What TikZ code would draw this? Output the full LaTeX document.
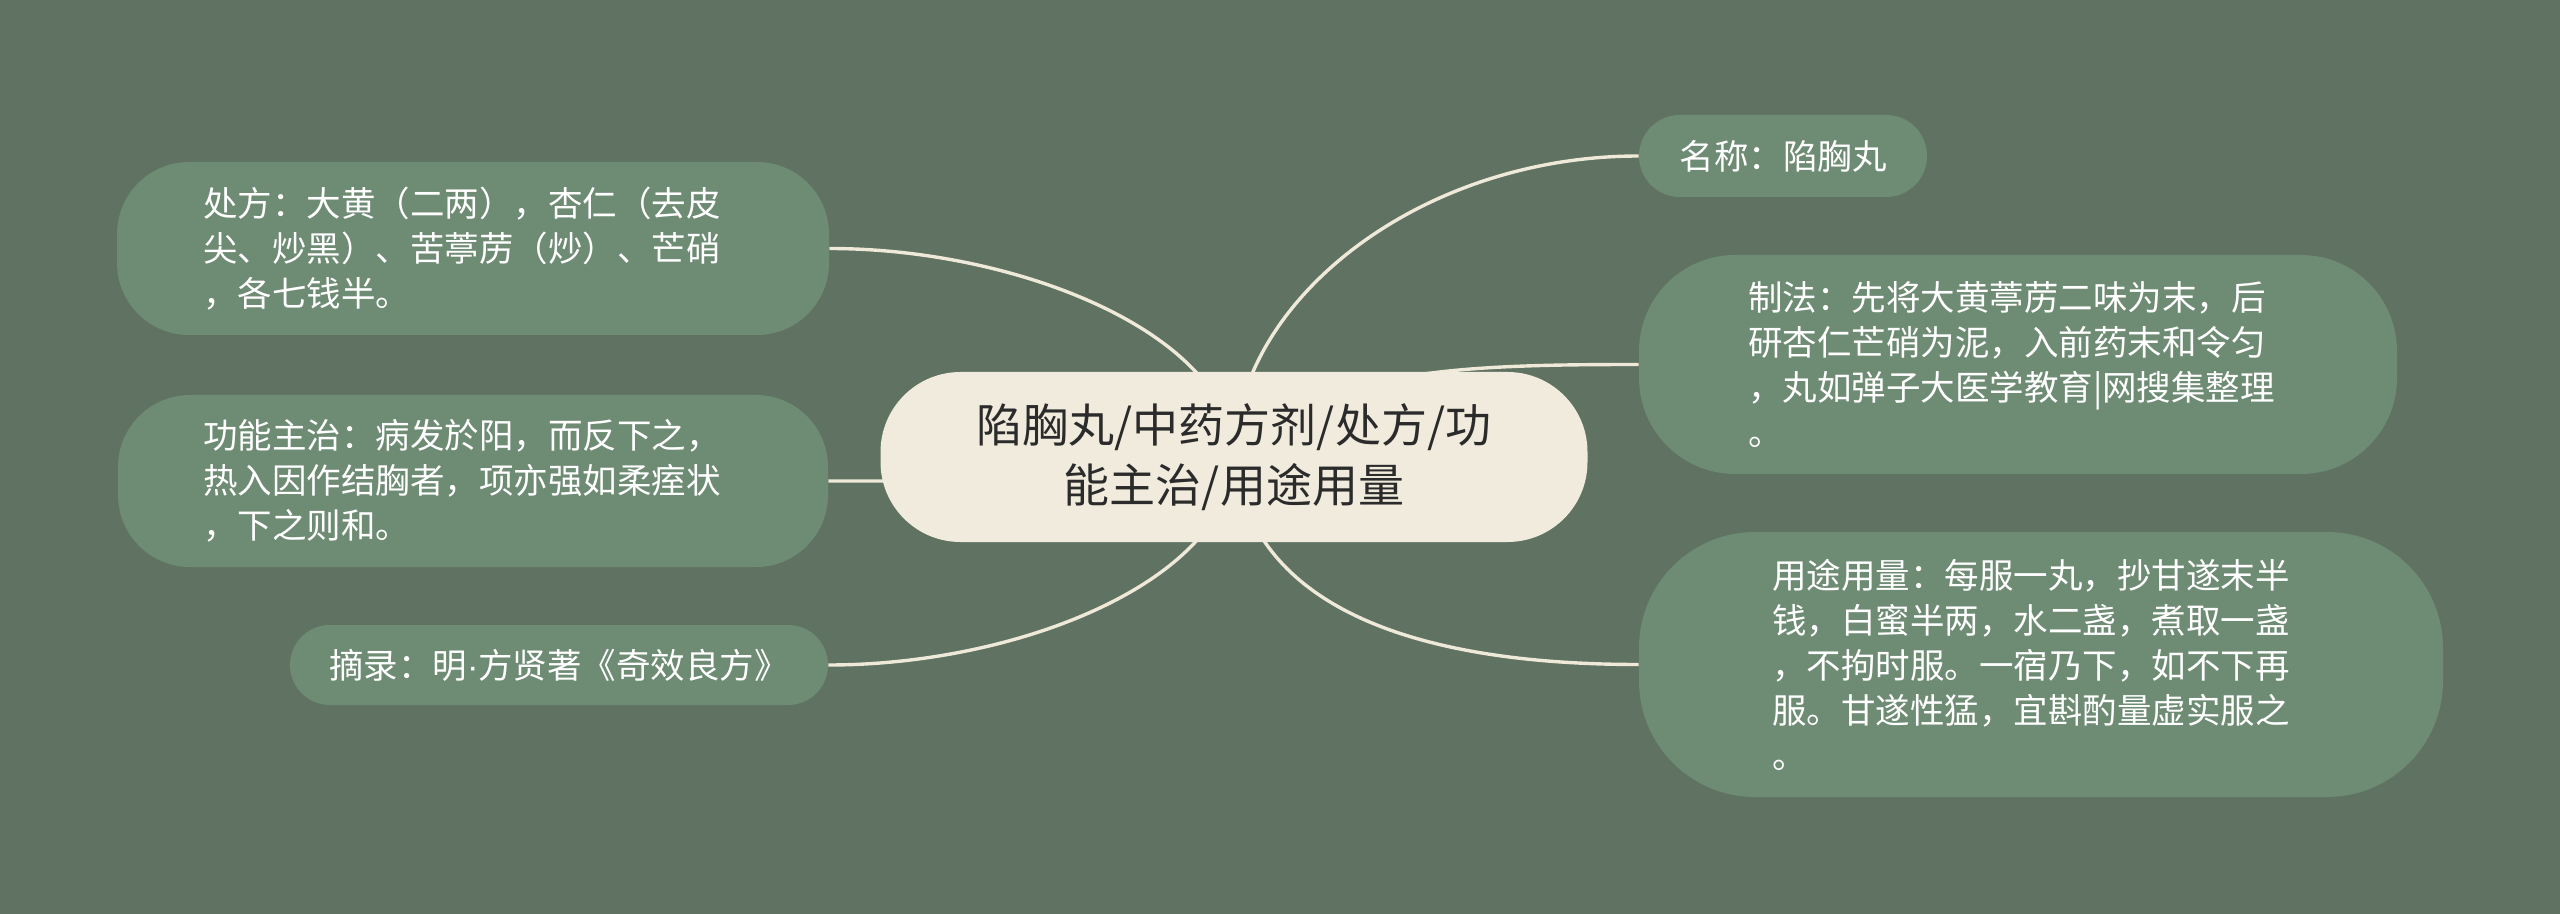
\documentclass[tikz,border=0pt]{standalone}
\usepackage{fontspec}
\usepackage{xcolor}
\usepackage{tikz}
\usetikzlibrary{positioning}
\newfontfamily\cjk{Noto Sans CJK SC}
\newfontfamily\dotfont{Liberation Sans}
\definecolor{paper}{RGB}{96,114,98}
\definecolor{leaffill}{RGB}{110,139,116}
\definecolor{rootfill}{RGB}{240,235,220}
\definecolor{linkcol}{RGB}{238,233,216}
\definecolor{roottext}{RGB}{43,43,43}
\tikzstyle{root}=[fill=rootfill,text=roottext,font=\cjk\fontsize{23pt}{30pt}\selectfont,align=center,inner sep=0pt,minimum width=353.5pt,minimum height=85pt,rounded corners=40pt]
\tikzstyle{leaf}=[fill=leaffill,text=white,font=\cjk\fontsize{17.25pt}{22.5pt}\selectfont,align=left,inner sep=0pt]
\tikzstyle{link}=[draw=linkcol,line width=1.7pt]
\pgfdeclarelayer{paperlayer}
\pgfdeclarelayer{linklayer}
\pgfsetlayers{paperlayer,linklayer,main}

\begin{document}
\begin{tikzpicture}[x=0.5pt,y=-0.5pt]
\begin{pgfonlayer}{paperlayer}
\fill[paper] (0,0) rectangle (2560,914);
\end{pgfonlayer}
\useasboundingbox (0,0) rectangle (2560,914);
\node[root](root) at (1234,457) {陷胸丸/中药方剂/处方/功\\能主治/用途用量};
\node[leaf,text width=270pt,minimum width=356pt,minimum height=86.5pt,rounded corners=36pt](chufang) at (473,248.5) {处方：大黄（二两），杏仁（去皮\\尖、炒黑）、苦葶苈（炒）、芒硝\\，各七钱半。};
\node[leaf,text width=270pt,minimum width=355pt,minimum height=86pt,rounded corners=36pt](gongneng) at (473,481) {功能主治：病发於阳，而反下之，\\热入因作结胸者，项亦强如柔痓状\\，下之则和。};
\node[leaf,minimum width=269pt,minimum height=40pt,rounded corners=19.9pt](zhailu) at (559,665) {摘录：明{\dotfont ·}方贤著《奇效良方》};
\node[leaf,minimum width=144pt,minimum height=41pt,rounded corners=20.4pt](mingcheng) at (1783,156) {名称：陷胸丸};
\node[leaf,text width=270pt,minimum width=379pt,minimum height=109.5pt,rounded corners=48pt](zhifa) at (2018,364.5) {制法：先将大黄葶苈二味为末，后\\研杏仁芒硝为泥，入前药末和令匀\\，丸如弹子大医学教育|网搜集整理\\。};
\node[leaf,text width=269pt,minimum width=402pt,minimum height=132.5pt,rounded corners=58pt](yongtu) at (2041,664.5) {用途用量：每服一丸，抄甘遂末半\\钱，白蜜半两，水二盏，煮取一盏\\，不拘时服。一宿乃下，如不下再\\服。甘遂性猛，宜斟酌量虚实服之\\。};
\begin{pgfonlayer}{linklayer}
\draw[link] (root.center) .. controls (1232,335) and (1020,248.5) .. (chufang.east);
\draw[link] (root.center) .. controls (1100,481) and (1000,481) .. (gongneng.east);
\draw[link] (root.center) .. controls (1230,580) and (1020,665) .. (zhailu.east);
\draw[link] (root.center) .. controls (1236,300) and (1420,156) .. (mingcheng.west);
\draw[link] (root.center) .. controls (1320,370) and (1450,364.5) .. (zhifa.west);
\draw[link] (root.center) .. controls (1250,600) and (1400,664.5) .. (yongtu.west);
\end{pgfonlayer}
\end{tikzpicture}
\end{document}
